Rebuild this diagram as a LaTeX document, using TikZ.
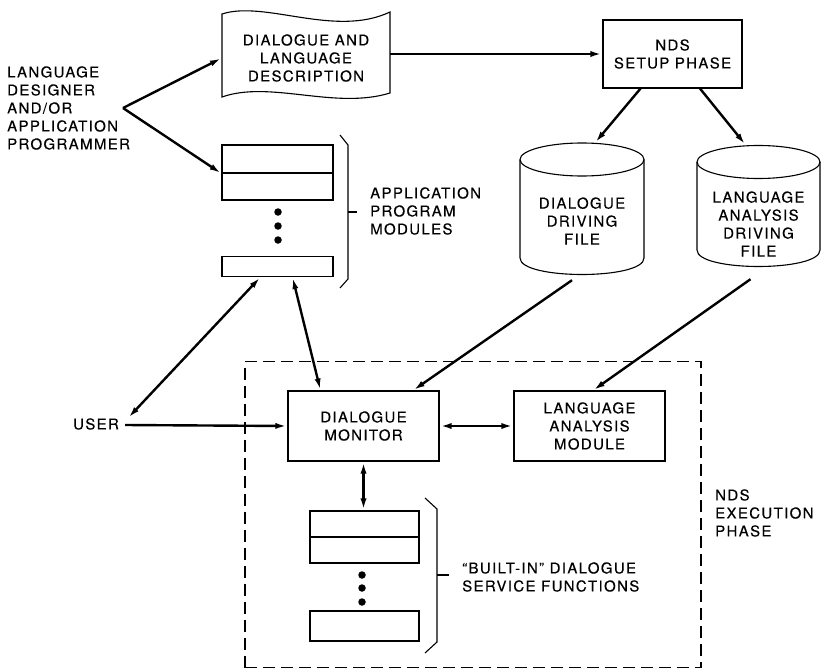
\documentclass[tikz,border=0pt]{standalone}
\usepackage{fontspec}
\setmainfont{TeX Gyre Heros}[LetterSpace=9, FakeBold=0.3]
\usetikzlibrary{arrows.meta,calc}
\tikzset{
  pbox/.style={draw, line width=1.1pt, inner sep=0pt, align=center},
  ghost/.style={inner sep=0pt, align=center},
  lbl/.style={inner sep=0pt, align=left, anchor=west},
  arr/.style={line width=2.4pt, -{Latex[length=12pt,width=6pt]}},
  darr/.style={line width=2.4pt, {Latex[length=12pt,width=6pt]}-{Latex[length=12pt,width=6pt]}},
  outline/.style={line width=1.1pt},
  dot/.style={circle, fill, inner sep=0pt, minimum size=7.5pt}
}
\begin{document}
\begin{tikzpicture}[x=1pt,y=-1pt,font=\fontsize{15}{18}\selectfont]
\useasboundingbox (0,0) rectangle (824,669);

% left label
\node[lbl] (designer) at (7,108) {LANGUAGE\\DESIGNER\\AND/OR\\APPLICATION\\PROGRAMMER};
\coordinate (J) at (123,108);

% dialogue and language description (document shape)
\draw[outline] (222,14) .. controls (265,0) and (335,38) .. (390,12) -- (390,93)
  .. controls (335,110) and (270,80) .. (222,97) -- cycle;
\node[ghost, minimum width=168pt, minimum height=80pt] (dld) at (306,58) {DIALOGUE AND\\LANGUAGE\\DESCRIPTION};

% setup phase
\node[pbox, minimum width=139pt, minimum height=68pt] (setup) at (672.5,54) {NDS\\SETUP PHASE};

% cylinders
\draw[outline] (582,159.5) ellipse [x radius=62, y radius=16.5];
\draw[outline] (520,159.5) -- (520,258) .. controls (520,280) and (644,280) .. (644,258) -- (644,159.5);
\node[ghost, minimum width=124pt, minimum height=132pt] (cyl1) at (582,209) {};
\node[ghost] (cyl1t) at (582,221) {DIALOGUE\\DRIVING\\FILE};

\draw[outline] (758.5,162) ellipse [x radius=61.5, y radius=16.5];
\draw[outline] (697,162) -- (697,250) .. controls (697,272) and (820,272) .. (820,250) -- (820,162);
\node[ghost, minimum width=123pt, minimum height=122pt] (cyl2) at (758.5,206) {};
\node[ghost] (cyl2t) at (758.5,224) {LANGUAGE\\ANALYSIS\\DRIVING\\FILE};

% application program modules
\node[pbox, minimum width=111pt, minimum height=28pt] (am1) at (277.5,159) {};
\node[pbox, minimum width=111pt, minimum height=27pt] (am2) at (277.5,186.5) {};
\node[dot] (amd1) at (278,212) {};
\node[dot] (amd2) at (278,226) {};
\node[dot] (amd3) at (278,240) {};
\node[pbox, minimum width=111pt, minimum height=20pt] (am3) at (277.5,266.5) {};
\draw[outline] (340,135) -- (348,145) -- (348,279) -- (340,288);
\draw[outline] (348,212) -- (357,212);
\node[lbl] (apm) at (370,211) {APPLICATION\\PROGRAM\\MODULES};

% user
\node[ghost] (user) at (96,424) {USER};

% execution phase
\node[draw, line width=1.1pt, dash pattern=on 12pt off 6pt, minimum width=456pt, minimum height=306pt] (exec) at (473,514.5) {};
\node[lbl] (execl) at (715,513) {NDS\\EXECUTION\\PHASE};

\node[pbox, minimum width=151pt, minimum height=70pt] (dm) at (363.5,426) {DIALOGUE\\MONITOR};
\node[pbox, minimum width=151pt, minimum height=70pt] (lam) at (589.5,426) {LANGUAGE\\ANALYSIS\\MODULE};

\node[pbox, minimum width=109pt, minimum height=26pt] (bs1) at (364.5,524) {};
\node[pbox, minimum width=109pt, minimum height=26pt] (bs2) at (364.5,550) {};
\node[dot] (bsd1) at (362,575) {};
\node[dot] (bsd2) at (362,588) {};
\node[dot] (bsd3) at (362,602) {};
\node[pbox, minimum width=109pt, minimum height=30pt] (bs3) at (364.5,626) {};
\draw[outline] (425,498) -- (437,509) -- (437,642) -- (425,653);
\draw[outline] (437,575) -- (449,575);
\node[lbl] (bif) at (462,577) {``BUILT-IN'' DIALOGUE\\SERVICE FUNCTIONS};

% connectors
\draw[arr] (J) -- (dld.west);
\draw[arr] (J) -- (am1.south west);
\draw[arr] (dld.east |- setup.west) -- (setup.west);
\draw[arr] ($(setup.south)+(-32,0)$) -- ($(cyl1.north)+(13,0)$);
\draw[arr] ($(setup.south)+(27.5,0)$) -- ($(cyl2.north)+(-13,0)$);
\draw[arr] ($(user.east)+(6,1)$) -- (dm.west);
\draw[darr] ($(user.east)+(9,-6)$) -- ($(am3.south)+(-17,0)$);
\draw[darr] ($(am3.south)+(15,0)$) -- ($(dm.north)+(-43,0)$);
\draw[arr] ($(cyl1.south)+(-10,5)$) -- ($(dm.north)+(49.5,0)$);
\draw[arr] ($(cyl2.south)+(-8,12)$) -- ($(lam.north)+(3.5,0)$);
\draw[darr] (dm.east) -- (lam.west);
\draw[darr] (dm.south) -- (dm.south |- bs1.north);
\end{tikzpicture}
\end{document}
